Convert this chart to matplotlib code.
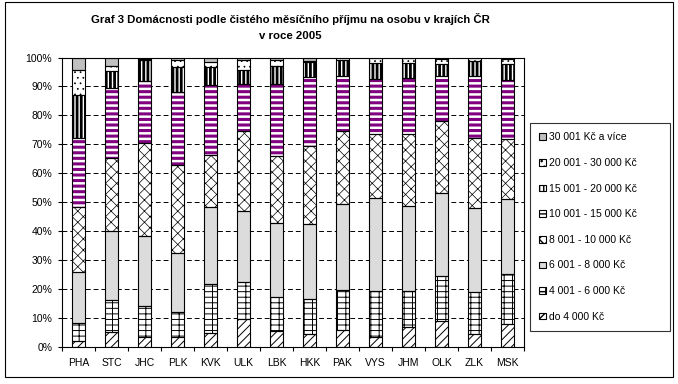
import matplotlib
matplotlib.use("Agg")
import matplotlib.pyplot as plt
from matplotlib.patches import Rectangle
import numpy as np

plt.rcParams["font.family"] = ["Liberation Sans", "DejaVu Sans"]

# regions (kraje)
kraje = ["PHA", "STC", "JHC", "PLK", "KVK", "ULK", "LBK", "HKK",
         "PAK", "VYS", "JHM", "OLK", "ZLK", "MSK"]

# share of households in each income band, in %
do_4000 = [2.1, 5.0, 3.2, 3.5, 4.8, 9.6, 5.4, 4.4, 5.8, 3.5, 6.9, 8.9, 4.4, 7.7]
p4_6 = [6.0, 11.1, 10.9, 8.4, 16.8, 12.6, 11.7, 12.0, 13.8, 15.7, 12.3, 15.5, 14.6, 17.4]
p6_8 = [17.6, 23.9, 24.1, 20.4, 26.8, 24.8, 25.7, 26.2, 29.6, 32.1, 29.4, 28.6, 28.8, 25.8]
p8_10 = [22.7, 25.4, 32.1, 30.5, 17.8, 27.5, 23.3, 26.9, 25.3, 22.1, 24.8, 25.0, 24.4, 20.8]
p10_15 = [23.9, 24.2, 21.5, 25.2, 24.2, 16.3, 24.8, 23.7, 19.0, 19.2, 19.4, 15.5, 21.3, 20.4]
p15_20 = [14.7, 5.9, 7.5, 8.6, 6.2, 5.0, 6.3, 5.2, 5.5, 5.5, 5.3, 4.1, 5.3, 5.5]
p20_30 = [8.6, 1.7, 0.3, 2.4, 2.0, 3.5, 1.8, 0.4, 0.8, 1.6, 1.6, 2.0, 0.9, 1.9]
nad_30 = [4.4, 2.8, 0.4, 1.0, 1.4, 0.7, 1.0, 1.2, 0.2, 0.3, 0.3, 0.4, 0.3, 0.5]

labels = ["do 4 000 Kč", "4 001 - 6 000 Kč", "6 001 - 8 000 Kč", "8 001 - 10 000 Kč",
          "10 001 - 15 000 Kč", "15 001 - 20 000 Kč", "20 001 - 30 000 Kč",
          "30 001 Kč a více"]
series = [do_4000, p4_6, p6_8, p8_10, p10_15, p15_20, p20_30, nad_30]

# fill, hatch, hatch colour, hatch linewidth  (excel-like patterns)
styles = [
    ("white", "////", "black", 0.7),
    ("white", "---||", "black", 0.7),
    ("#dcdcdc", None, "black", 0.7),
    ("white", "xxx", "black", 0.5),
    ("white", "---", "#800080", 2.2),
    ("white", "||||", "black", 2.0),
    ("white", "...", "black", 0.5),
    ("#c0c0c0", None, "black", 0.7),
]

data = np.array(series, dtype=float)
data = data / data.sum(axis=0) * 100  # 100% stacked

fig = plt.figure(figsize=(6.78, 3.84), dpi=100)
ax = fig.add_axes([62 / 678, 1 - 346.7 / 384, 462 / 678, 289.2 / 384])

x = np.arange(len(kraje))
bottom = np.zeros(len(kraje))
handles = []
for vals, lab, (fc, h, hc, hlw) in zip(data, labels, styles):
    with plt.rc_context({"hatch.linewidth": hlw}):
        bars = ax.bar(x, vals, 0.4, bottom=bottom, color=fc, hatch=h,
                      edgecolor=hc, linewidth=0, zorder=2)
    for b in bars:
        if hasattr(b, "set_hatch_linewidth"):
            b.set_hatch_linewidth(hlw)
    ax.bar(x, vals, 0.4, bottom=bottom, fill=False, edgecolor="black",
           linewidth=0.8, zorder=3)
    hp = Rectangle((0, 0), 1, 1, facecolor=fc, hatch=h, edgecolor="black",
                   linewidth=0.8, label=lab)
    handles.append(hp)
    bottom += vals

ax.set_xlim(-0.5, len(kraje) - 0.5)
ax.set_ylim(0, 100)
ax.set_yticks(np.arange(0, 101, 10))
ax.set_yticklabels([f"{v}%" for v in range(0, 101, 10)])
ax.set_xticks(x)
ax.set_xticklabels(kraje)
ax.set_xticks(np.arange(-0.5, len(kraje)), minor=True)
ax.tick_params(axis="x", which="major", length=0, pad=8, labelsize=7.5)
ax.tick_params(axis="x", which="minor", length=3, width=0.8, direction="out")
ax.tick_params(axis="y", length=3, width=0.8, direction="out", pad=4, labelsize=7.5)

ax.set_axisbelow(True)
ax.yaxis.grid(True, color="black", linewidth=0.7, linestyle=(0, (5, 3)))
for s in ax.spines.values():
    s.set_linewidth(0.8)
    s.set_color("black")

# legend, top band first
leg = fig.legend(handles[::-1], labels[::-1], loc="upper left", mode="expand",
                 bbox_to_anchor=(530 / 678, 1 - 335 / 384, 140 / 678, 212 / 384),
                 fontsize=7.5, frameon=True, fancybox=False, edgecolor="black",
                 handlelength=0.6, handleheight=0.6, handletextpad=0.3,
                 labelspacing=1.5, borderpad=0.9, borderaxespad=0)
leg.get_frame().set_linewidth(0.8)

fig.text(290 / 678, 1 - 27 / 384,
         "Graf 3 Domácnosti podle čistého měsíčního příjmu na osobu v krajích ČR\nv roce 2005",
         ha="center", va="center", fontsize=8.2, fontweight="bold", linespacing=1.75)

# outer chart border
fig.patches.append(Rectangle((5 / 678, 1 - 377 / 384), 668 / 678, 375 / 384,
                             transform=fig.transFigure, fill=False,
                             edgecolor="black", linewidth=0.8))

fig.savefig("out.png", dpi=100)
